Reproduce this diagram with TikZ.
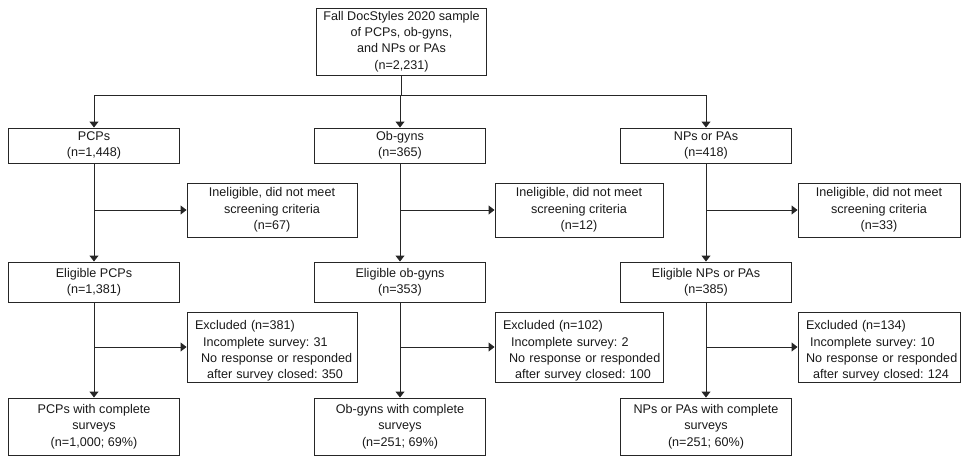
\documentclass[tikz,border=0pt]{standalone}
\usepackage{fontspec}
\setmainfont{Liberation Sans}
\usetikzlibrary{arrows.meta}
\frenchspacing
\tikzset{
  box/.style={draw=black!85, line width=0.95pt, inner sep=0pt, align=center,
    text=black!90, font=\fontsize{12.6}{16.3}\selectfont},
  colbox/.style={box, minimum width=171pt},
  exbox/.style={box, align=left, text width=#1, minimum height=70pt},
  arr/.style={draw=black!85, line width=0.95pt, -{Triangle[length=6pt,width=9pt]}},
  ln/.style={draw=black!85, line width=0.95pt}
}
\newcommand{\exstrut}{\rule{0pt}{17pt}}
\begin{document}
\begin{tikzpicture}[x=1pt,y=-1pt]
\useasboundingbox (0,0) rectangle (961,458);
% top
\node[box, minimum width=170pt, minimum height=67pt] (top) at (401.5,41.5)
  {Fall DocStyles 2020 sample\\of PCPs, ob-gyns,\\and NPs or PAs\\(n=2,231)};
% level 1
\node[colbox, minimum height=35pt] (pcp) at (94,145.5) {PCPs\\(n=1,448)};
\node[colbox, minimum height=35pt] (ob) at (400,145.5) {Ob-gyns\\(n=365)};
\node[colbox, minimum height=35pt] (np) at (706,145.5) {NPs or PAs\\(n=418)};
% ineligible
\node[box, minimum width=170pt, minimum height=54pt] (ine1) at (272,210)
  {Ineligible, did not meet\\screening criteria\\(n=67)};
\node[box, minimum width=168pt, minimum height=54pt] (ine2) at (579,210)
  {Ineligible, did not meet\\screening criteria\\(n=12)};
\node[box, minimum width=162pt, minimum height=54pt] (ine3) at (879,210)
  {Ineligible, did not meet\\screening criteria\\(n=33)};
% eligible
\node[colbox, minimum height=40pt] (el1) at (94,282) {Eligible PCPs\\(n=1,381)};
\node[colbox, minimum height=40pt] (el2) at (400,282) {Eligible ob-gyns\\(n=353)};
\node[colbox, minimum height=40pt] (el3) at (706,282) {Eligible NPs or PAs\\(n=385)};
% excluded
\node[exbox=170pt] (ex1) at (272,347)
  {\exstrut\mbox{\hspace*{8pt}Excluded (n=381)}\\\mbox{\hspace*{16pt}Incomplete survey: 31}\\\mbox{\hspace*{14pt}No response or responded}\\\mbox{\hspace*{20pt}after survey closed: 350}};
\node[exbox=168pt] (ex2) at (579,347)
  {\exstrut\mbox{\hspace*{8pt}Excluded (n=102)}\\\mbox{\hspace*{16pt}Incomplete survey: 2}\\\mbox{\hspace*{14pt}No response or responded}\\\mbox{\hspace*{20pt}after survey closed: 100}};
\node[exbox=162pt] (ex3) at (879,347)
  {\exstrut\mbox{\hspace*{8pt}Excluded (n=134)}\\\mbox{\hspace*{12pt}Incomplete survey: 10}\\\mbox{\hspace*{8pt}No response or responded}\\\mbox{\hspace*{15pt}after survey closed: 124}};
% final
\node[colbox, minimum height=57pt] (fin1) at (94,426.5) {PCPs with complete\\surveys\\(n=1,000; 69\%)};
\node[colbox, minimum height=57pt] (fin2) at (400,426.5) {Ob-gyns with complete\\surveys\\(n=251; 69\%)};
\node[colbox, minimum height=57pt] (fin3) at (706,426.5) {NPs or PAs with complete\\surveys\\(n=251; 60\%)};
% split
\coordinate (split) at (401.5,95);
\draw[ln] (top.south) -- (split);
\draw[ln] (pcp.north |- split) -- (np.north |- split);
\draw[arr] (pcp.north |- split) -- (pcp.north);
\draw[arr] (ob.north |- split) -- (ob.north);
\draw[arr] (np.north |- split) -- (np.north);
% columns
\foreach \a/\b/\c/\d/\e in {pcp/el1/ine1/fin1/ex1, ob/el2/ine2/fin2/ex2, np/el3/ine3/fin3/ex3}{
  \draw[arr] (\a.south) -- (\b.north);
  \draw[arr] (\a.south |- \c.west) -- (\c.west);
  \draw[arr] (\b.south) -- (\d.north);
  \draw[arr] (\b.south |- \e.west) -- (\e.west);
}
\end{tikzpicture}
\end{document}
